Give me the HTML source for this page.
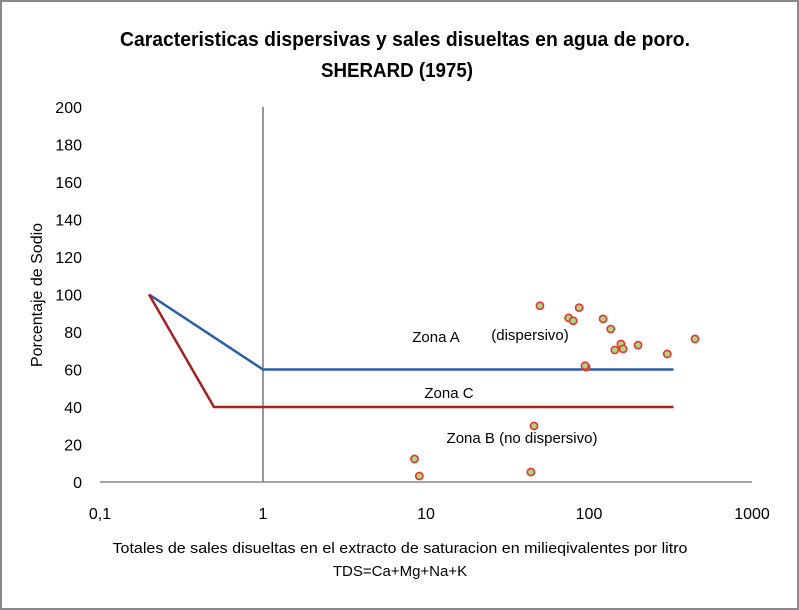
<!DOCTYPE html>
<html><head><meta charset="utf-8"><style>
html,body{margin:0;padding:0;background:#fff}
svg{display:block;font-family:"Liberation Sans",sans-serif}
</style></head><body>
<svg id="chart" width="799" height="610">
<rect x="1" y="1" width="797" height="608" fill="#fff" stroke="#888" stroke-width="2"/>
<text x="405" y="46" text-anchor="middle" font-size="20" font-weight="bold" textLength="570" lengthAdjust="spacingAndGlyphs">Caracteristicas dispersivas y sales disueltas en agua de poro.</text>
<text x="397" y="77" text-anchor="middle" font-size="20" font-weight="bold" textLength="152" lengthAdjust="spacingAndGlyphs">SHERARD (1975)</text>
<g id="axes"></g>
<g id="marks"></g>
<text transform="translate(42,295) rotate(-90)" text-anchor="middle" font-size="16">Porcentaje de Sodio</text>
<text x="400" y="553" text-anchor="middle" font-size="15" textLength="575" lengthAdjust="spacingAndGlyphs">Totales de sales disueltas en el extracto de saturacion en milieqivalentes por litro</text>
<text x="400" y="576" text-anchor="middle" font-size="15">TDS=Ca+Mg+Na+K</text>
<text x="436" y="342" text-anchor="middle" font-size="15">Zona A</text>
<text x="530" y="340" text-anchor="middle" font-size="15">(dispersivo)</text>
<text x="449" y="398" text-anchor="middle" font-size="15">Zona C</text>
<text x="522" y="443" text-anchor="middle" font-size="15">Zona B  (no dispersivo)</text>
</svg>
<script>
const xTicks=[0.1,1,10,100,1000];
const xTickLabels=["0,1","1","10","100","1000"];
const yTicks=[0,20,40,60,80,100,120,140,160,180,200];
const blueX=[0.2,1,330];
const blueY=[100,60,60];
const redX=[0.2,0.5,330];
const redY=[100,40,40];
const ptsX=[50,87,75,80,122,136,157,162,144,200,302,447,96,94.5,46,44,8.5,9.1];
const ptsY=[94,93,87.5,86,87,81.6,73.6,71,70.4,73,68.3,76.3,61.3,62,29.9,5.3,12.3,3.2];
const NS="http://www.w3.org/2000/svg";
const X=v=>100+163*Math.log10(v/0.1);
const Y=v=>482-1.875*v;
const axes=document.getElementById('axes'),marks=document.getElementById('marks');
function mk(tag,attrs,parent){const e=document.createElementNS(NS,tag);for(const k in attrs)e.setAttribute(k,attrs[k]);parent.appendChild(e);return e;}
let xa=mk('line',{x1:X(0.1),x2:X(1000),y1:Y(0),y2:Y(0),stroke:'#888','stroke-width':1.5},axes);


let ya=mk('line',{x1:X(1),x2:X(1),y1:Y(0),y2:Y(200),stroke:'#777','stroke-width':1.5},axes);


yTicks.forEach(v=>{let t=mk('text',{x:82,y:Y(v)+6,'text-anchor':'end','font-size':16},axes);t.textContent=v;

});
xTicks.forEach((v,i)=>{let t=mk('text',{x:X(v),y:519,'text-anchor':'middle','font-size':16},axes);t.textContent=xTickLabels[i];

});
function line(xs,ys,c,name){let p=mk('polyline',{points:xs.map((x,i)=>X(x)+','+Y(ys[i])).join(' '),fill:'none',stroke:c,'stroke-width':2.5},marks);

}
line(blueX,blueY,'#2a5ea8','boundary-a-line');
line(redX,redY,'#a52020','boundary-c-line');
ptsX.forEach((x,i)=>{let c=mk('circle',{cx:X(x),cy:Y(ptsY[i]),r:3.6,fill:'#9fdc8a',stroke:'#f0302a','stroke-width':1.6},marks);

});
</script>
</body></html>
